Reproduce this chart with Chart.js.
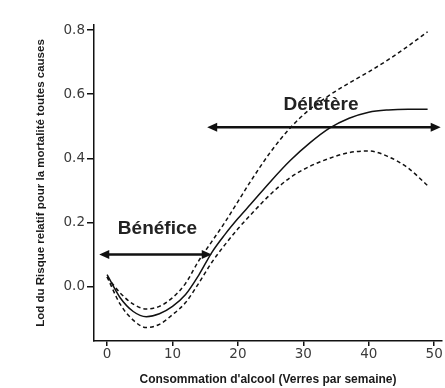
<!DOCTYPE html>
<html>
<head>
<meta charset="utf-8">
<script src="https://cdn.jsdelivr.net/npm/chart.js@4/dist/chart.umd.min.js"></script>
<style>
  html, body { margin: 0; padding: 0; background: #fff; }
  #wrap { width: 445px; height: 388px; }
</style>
</head>
<body>
<div id="wrap"><canvas id="chart"></canvas></div>
<script>
// consommation (verres par semaine)
const doses = [0, 2, 4, 6, 8, 10, 12, 14, 16, 18, 20, 22, 25, 28, 31, 34, 37, 40, 43, 46, 49];
// log du risque relatif : estimation et bornes de l'intervalle
const estimate = [0.037, -0.035, -0.078, -0.094, -0.085, -0.062, -0.025, 0.035, 0.106, 0.162, 0.212, 0.258, 0.328, 0.393, 0.448, 0.494, 0.525, 0.544, 0.551, 0.553, 0.553];
const upperCI = [0.03, -0.02, -0.055, -0.07, -0.062, -0.035, 0.01, 0.08, 0.14, 0.2, 0.265, 0.33, 0.42, 0.495, 0.553, 0.597, 0.635, 0.67, 0.708, 0.75, 0.795];
const lowerCI = [0.03, -0.055, -0.105, -0.128, -0.118, -0.088, -0.05, 0.01, 0.075, 0.13, 0.18, 0.225, 0.288, 0.34, 0.375, 0.4, 0.418, 0.423, 0.405, 0.37, 0.315];

const xTicks = [0, 10, 20, 30, 40, 50];
const yTicks = [0, 0.2, 0.4, 0.6, 0.8];

// zones : fleches double pointe et libelles
const zones = [
    { label: 'Bénéfice', from: -1.2, to: 16, y: 0.1, textX: 7.7, textY: 0.18 },
    { label: 'Délétère', from: 15.3, to: 51, y: 0.497, textX: 32.7, textY: 0.566 }
];

function toPoints(values) {
    return doses.map((d, i) => ({ x: d, y: values[i] }));
}

function arrowHead(ctx, x, y, dir) {
    ctx.beginPath();
    ctx.moveTo(x, y);
    ctx.lineTo(x - dir * 10, y - 4.5);
    ctx.lineTo(x - dir * 10, y + 4.5);
    ctx.closePath();
    ctx.fill();
}

const zonePlugin = {
    id: 'zones',
    afterDatasetsDraw(chart) {
        const ctx = chart.ctx;
        const xs = chart.scales.x;
        const ys = chart.scales.y;
        ctx.save();
        ctx.strokeStyle = '#111';
        ctx.fillStyle = '#111';
        ctx.lineWidth = 2.5;
        zones.forEach(z => {
            const x1 = xs.getPixelForValue(z.from);
            const x2 = xs.getPixelForValue(z.to);
            const y = ys.getPixelForValue(z.y);
            ctx.beginPath();
            ctx.moveTo(x1 + 6, y);
            ctx.lineTo(x2 - 6, y);
            ctx.stroke();
            arrowHead(ctx, x1, y, -1);
            arrowHead(ctx, x2, y, 1);

            ctx.font = 'bold 19px "Liberation Sans", Arial, sans-serif';
            ctx.fillStyle = '#222';
            ctx.textAlign = 'center';
            ctx.textBaseline = 'middle';
            ctx.fillText(z.label, xs.getPixelForValue(z.textX), ys.getPixelForValue(z.textY));
            ctx.fillStyle = '#111';
        });
        ctx.restore();
    }
};

const tickFont = { family: '"DejaVu Sans", Verdana, sans-serif', size: 13.5 };

new Chart(document.getElementById('chart'), {
    type: 'line',
    data: {
        datasets: [
            {
                data: toPoints(estimate),
                borderColor: '#111',
                borderWidth: 1.5,
                pointRadius: 0,
                cubicInterpolationMode: 'monotone'
            },
            {
                data: toPoints(upperCI),
                borderColor: '#111',
                borderWidth: 1.5,
                borderDash: [4, 3],
                pointRadius: 0,
                cubicInterpolationMode: 'monotone'
            },
            {
                data: toPoints(lowerCI),
                borderColor: '#111',
                borderWidth: 1.5,
                borderDash: [4, 3],
                pointRadius: 0,
                cubicInterpolationMode: 'monotone'
            }
        ]
    },
    options: {
        responsive: true,
        maintainAspectRatio: false,
        animation: false,
        layout: { padding: { top: 25, right: 3, left: 0, bottom: 0 } },
        plugins: {
            legend: { display: false },
            tooltip: { enabled: false }
        },
        scales: {
            x: {
                type: 'linear',
                min: -2,
                max: 51.2,
                afterBuildTicks: s => { s.ticks = xTicks.map(v => ({ value: v })); },
                afterFit: s => { s.height = 47; },
                border: { display: true, color: '#111', width: 1.5 },
                grid: { drawOnChartArea: false, drawTicks: true, tickLength: 5, color: '#111', lineWidth: 1.5 },
                ticks: { color: '#3a3a3a', font: tickFont, padding: 0, maxRotation: 0 },
                title: {
                    display: true,
                    text: "Consommation d'alcool (Verres par semaine)",
                    color: '#1a1a1a',
                    font: { family: '"Liberation Sans", Arial, sans-serif', size: 12, weight: 'bold' },
                    padding: { top: 0, bottom: 1 }
                }
            },
            y: {
                type: 'linear',
                min: -0.17,
                max: 0.816,
                afterBuildTicks: s => { s.ticks = yTicks.map(v => ({ value: v })); },
                afterFit: s => { s.width = 94; },
                border: { display: true, color: '#111', width: 1.5 },
                grid: { drawOnChartArea: false, drawTicks: true, tickLength: 7, color: '#111', lineWidth: 1.5 },
                ticks: { color: '#3a3a3a', font: tickFont, padding: 2, callback: v => v.toFixed(1) },
                title: {
                    display: true,
                    text: 'Lod du Risque relatif pour la mortalité toutes causes',
                    color: '#1a1a1a',
                    font: { family: '"Liberation Sans", Arial, sans-serif', size: 11.5, weight: 'bold' },
                    padding: { top: 34, bottom: 0 }
                }
            }
        }
    },
    plugins: [zonePlugin]
});
</script>
</body>
</html>
